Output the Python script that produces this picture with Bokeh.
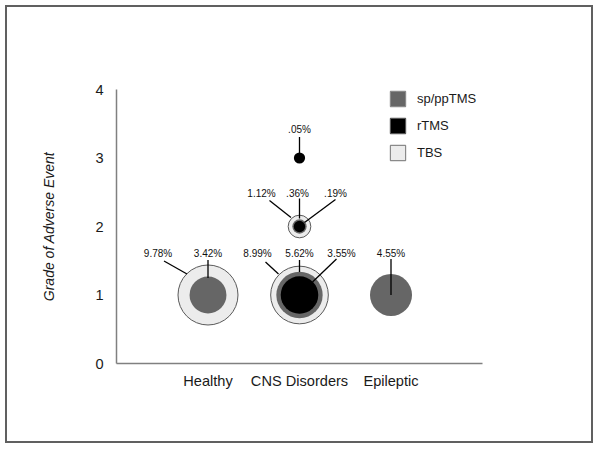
import math
from bokeh.plotting import figure
from bokeh.models import FixedTicker, Legend, LegendItem, ColumnDataSource
from bokeh.core.properties import value
from bokeh.embed import file_html
from bokeh.resources import INLINE

# ---------------- data ----------------
categories = ["Healthy", "CNS Disorders", "Epileptic"]
series_names = ["sp/ppTMS", "rTMS", "TBS"]
grade_ticks = [0, 1, 2, 3, 4]

event_category = ["Healthy", "Healthy", "CNS Disorders", "CNS Disorders", "CNS Disorders",
                  "Epileptic", "CNS Disorders", "CNS Disorders", "CNS Disorders", "CNS Disorders"]
event_grade = [1, 1, 1, 1, 1, 1, 2, 2, 2, 3]
event_series = ["TBS", "sp/ppTMS", "TBS", "sp/ppTMS", "rTMS",
                "sp/ppTMS", "TBS", "sp/ppTMS", "rTMS", "rTMS"]
event_pct = [9.78, 3.42, 8.99, 5.62, 3.55, 4.55, 1.12, 0.36, 0.19, 0.05]

# ---------------- layout / style ----------------
W, H = 588, 438
ML, MT = 109, 82
FW, FH = 366, 274
MR, MB = W - ML - FW, H - MT - FH
X0, X1, Y0, Y1 = 0, 4, 0, 4
PXX = FW / (X1 - X0)
PXY = FH / (Y1 - Y0)
FONT = "Liberation Sans"

FILL = {"sp/ppTMS": "#666666", "rTMS": "#000000", "TBS": "#ececec"}
EDGE = {"sp/ppTMS": None, "rTMS": None, "TBS": "#5a5a5a"}
LEG_EDGE = {"sp/ppTMS": "#8a8a8a", "rTMS": "#555555", "TBS": "#8a8a8a"}

# leader layout per event (screen px, y down): label offset, line start, line end
LEADERS = [
    ((-50, -42), (-44, -34), (-21, -21)),
    ((0, -42), (0, -35), (0, -17)),
    ((-42, -42), (-34, -33), (-21, -21)),
    ((0, -42), (0, -35), (0, -23)),
    ((42, -42), (37, -36), (13, -13)),
    ((0, -42), (0, -36), (0, 0)),
    ((-38, -33), (-30, -26), (-8.5, -9)),
    ((-2, -33), (0, -28), (0, -8)),
    ((36, -33), (36, -27), (5, -4)),
    ((0, -29), (0, -21), (0, -5)),
]


def radius_px(pct):
    return max(1.76 + 9.03 * math.sqrt(pct), 5.6)


def pct_label(pct):
    s = f"{pct:.2f}"
    if s.startswith("0"):
        s = s[1:]
    return s + "%"


cat_pos = {c: i + 1 for i, c in enumerate(categories)}

p = figure(width=W, height=H, x_range=(X0, X1), y_range=(Y0, Y1),
           output_backend="svg", toolbar_location=None, title=None,
           min_border_left=ML, min_border_right=MR, min_border_top=MT, min_border_bottom=MB,
           background_fill_color="white", border_fill_alpha=0,
           styles={"border": "2px solid #606060", "margin-left": "5px", "margin-top": "5px"})
p.outline_line_color = None
p.grid.visible = False

# axes
for ax in (p.xaxis[0], p.yaxis[0]):
    ax.axis_line_color = "#808080"
    ax.axis_line_width = 1.5
    ax.major_tick_line_color = None
    ax.minor_tick_line_color = None
    ax.major_tick_out = 0
    ax.major_tick_in = 0
    ax.minor_tick_out = 0
    ax.minor_tick_in = 0
    ax.major_label_text_font = FONT
    ax.major_label_text_font_size = "14.6px"
    ax.major_label_text_color = "#1a1a1a"
p.xaxis.ticker = FixedTicker(ticks=[cat_pos[c] for c in categories])
p.xaxis.major_label_overrides = {cat_pos[c]: c for c in categories}
p.xaxis.major_label_standoff = 9
p.yaxis.ticker = FixedTicker(ticks=grade_ticks)
p.yaxis.major_label_standoff = 13
p.yaxis.axis_label = "Grade of Adverse Event"
p.yaxis.axis_label_text_font = FONT
p.yaxis.axis_label_text_font_style = "italic"
p.yaxis.axis_label_text_font_size = "14px"
p.yaxis.axis_label_text_color = "#1a1a1a"
p.yaxis.axis_label_standoff = 35

# circles: outermost series first
for s in ["TBS", "sp/ppTMS", "rTMS"]:
    idx = [i for i, e in enumerate(event_series) if e == s]
    src = ColumnDataSource(dict(
        x=[cat_pos[event_category[i]] for i in idx],
        y=[event_grade[i] for i in idx],
        size=[2 * radius_px(event_pct[i]) for i in idx],
    ))
    p.scatter("x", "y", size="size", source=src, marker="circle",
              fill_color=FILL[s], line_color=EDGE[s], line_width=1)

# leader lines and labels
lx, ly, ldx, ldy, txt = [], [], [], [], []
sx0, sy0, sx1, sy1 = [], [], [], []
for i, (lab, st, en) in enumerate(LEADERS):
    cx = cat_pos[event_category[i]]
    cy = event_grade[i]
    lx.append(cx)
    ly.append(cy)
    ldx.append(lab[0])
    ldy.append(lab[1])
    txt.append(pct_label(event_pct[i]))
    sx0.append(cx + st[0] / PXX)
    sy0.append(cy - st[1] / PXY)
    sx1.append(cx + en[0] / PXX)
    sy1.append(cy - en[1] / PXY)

p.segment(x0=sx0, y0=sy0, x1=sx1, y1=sy1, line_color="#000000", line_width=1.3)
p.text(x=lx, y=ly, text=txt, x_offset=ldx, y_offset=ldy,
       text_font=value(FONT), text_font_size="10px", text_color="#111111",
       text_align="center", text_baseline="middle")

# legend with square swatches (dummy quads outside the visible range)
items = []
for s in series_names:
    r = p.quad(left=[-10], right=[-9], bottom=[-10], top=[-9],
               fill_color=FILL[s], line_color=LEG_EDGE[s], line_width=1.2)
    items.append(LegendItem(label=s, renderers=[r]))
legend = Legend(items=items, location=(272, 201), orientation="vertical",
                glyph_width=19, glyph_height=19, label_height=20, spacing=7,
                label_standoff=10, padding=0, margin=0,
                border_line_color=None, background_fill_alpha=0,
                label_text_font=FONT, label_text_font_size="13px",
                label_text_color="#1a1a1a")
p.add_layout(legend)

open("out.html", "w").write(file_html(p, INLINE))
